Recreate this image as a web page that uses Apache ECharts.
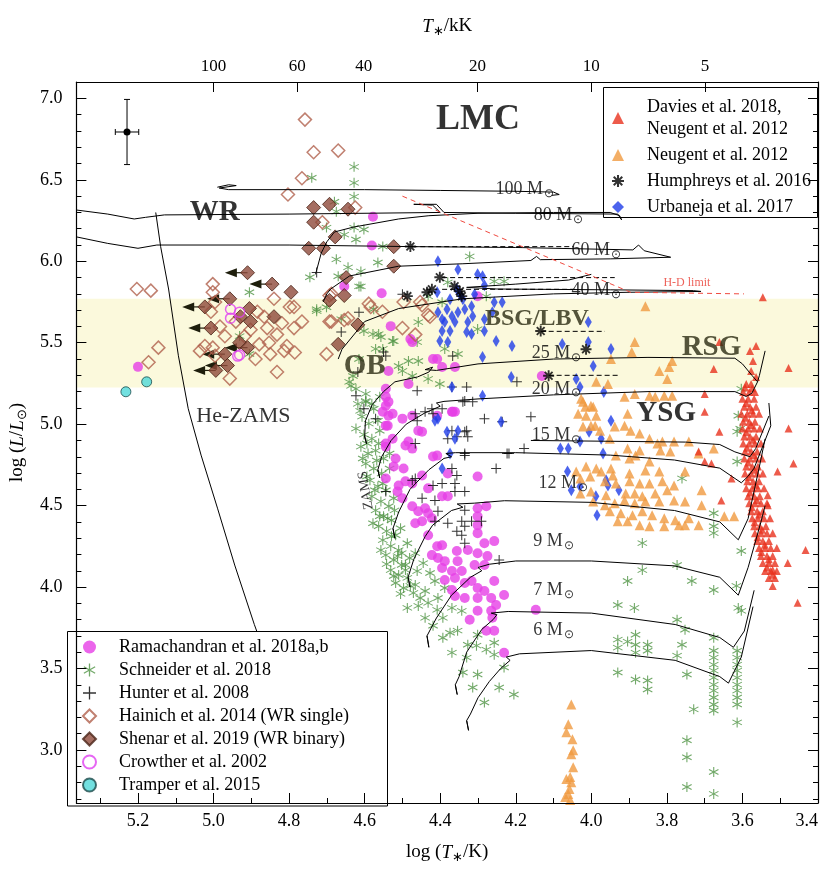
<!DOCTYPE html>
<html>
<head>
<meta charset="utf-8">
<title>LMC HR diagram</title>
<script src="https://cdn.jsdelivr.net/npm/echarts@6.0.0/dist/echarts.min.js"></script>
<style>
  html, body { margin: 0; padding: 0; background: #fff; }
  #chart { width: 831px; height: 869px; }
</style>
</head>
<body>
<div id="chart"></div>
<script>
// ---- axes ----
var xMin = 3.4, xMax = 5.363, yMin = 2.674, yMax = 7.101;
var logTTicks = [3.4, 3.6, 3.8, 4.0, 4.2, 4.4, 4.6, 4.8, 5.0, 5.2];
var logTMinor = [3.5, 3.7, 3.9, 4.1, 4.3, 4.5, 4.7, 4.9, 5.1, 5.3];
var logLTicks = [3.0, 3.5, 4.0, 4.5, 5.0, 5.5, 6.0, 6.5, 7.0];
var logLMinor = [2.7, 2.8, 2.9, 3.1, 3.2, 3.3, 3.4, 3.6, 3.7, 3.8, 3.9, 4.1, 4.2, 4.3, 4.4, 4.6, 4.7, 4.8, 4.9,
                 5.1, 5.2, 5.3, 5.4, 5.6, 5.7, 5.8, 5.9, 6.1, 6.2, 6.3, 6.4, 6.6, 6.7, 6.8, 6.9];
var kKTicks = [100, 60, 40, 20, 10, 5];
var bandLogL = [5.225, 5.77];

// ---- observations [log T, log L] ----
var ramachandran = [[4.544,5.113],[4.537,5.052],[4.500,5.034],[4.539,4.991],[4.458,4.960],[4.448,4.954],[4.367,5.076],[4.544,4.862],[4.518,4.789],[4.492,4.869],[4.474,4.850],[4.523,4.740],[4.497,4.728],[4.544,4.667],[4.510,4.624],[4.492,4.649],[4.474,4.636],[4.513,4.587],[4.500,4.545],[4.448,4.685],[4.432,4.606],[4.419,4.801],[4.380,4.697],[4.474,4.496],[4.458,4.465],[4.440,4.484],[4.432,4.453],[4.466,4.392],[4.448,4.404],[4.422,4.422],[4.395,4.557],[4.380,4.557],[4.301,4.484],[4.278,4.496],[4.301,4.434],[4.301,4.380],[4.301,4.331],[4.283,4.269],[4.257,4.282],[4.432,4.318],[4.408,4.251],[4.395,4.257],[4.422,4.196],[4.406,4.178],[4.388,4.159],[4.356,4.221],[4.354,4.159],[4.327,4.227],[4.301,4.208],[4.275,4.190],[4.309,4.135],[4.283,4.135],[4.395,4.117],[4.369,4.098],[4.361,4.056],[4.343,4.098],[4.335,4.025],[4.317,4.037],[4.388,4.043],[4.369,3.982],[4.301,3.994],[4.283,3.976],[4.257,4.037],[4.265,3.933],[4.301,3.933],[4.335,3.933],[4.361,3.945],[4.231,3.951],[4.252,3.890],[4.265,3.854],[4.262,3.811],[4.301,3.854],[4.322,3.799],[4.278,3.732],[4.257,3.732],[4.231,3.597],[4.147,3.860],[4.301,4.679],[4.578,6.274],[4.581,6.097],[4.654,5.846],[4.555,5.804],[4.531,5.602],[4.479,5.523],[4.474,5.504],[4.537,5.327],[4.419,5.400],[4.361,5.351],[4.395,5.351],[4.301,5.785],[4.131,5.296],[4.369,5.076],[4.544,5.168],[4.537,5.137],[4.544,5.217],[4.484,5.247],[4.552,5.076],[4.526,5.064],[4.474,5.052],[4.408,5.052],[4.361,5.076],[4.544,4.881],[4.526,4.911],[4.484,4.893],[4.544,4.991],[4.408,4.807],[5.200,5.352],[4.408,5.400]];

var schneider = [[4.628,6.580],[4.628,6.482],[4.628,6.397],[4.740,6.513],[4.680,6.366],[4.675,6.305],[4.701,6.207],[4.654,6.164],[4.628,6.207],[4.602,6.195],[4.623,6.134],[4.552,6.091],[4.675,6.012],[4.644,5.963],[4.745,5.902],[4.670,5.908],[4.610,5.846],[4.727,5.694],[4.322,6.030],[4.257,5.877],[4.231,5.877],[4.278,5.785],[4.380,5.871],[4.578,5.553],[4.563,5.553],[4.526,5.510],[4.461,5.504],[4.552,5.462],[4.602,5.572],[4.484,5.388],[4.458,5.388],[4.500,5.327],[4.474,5.296],[4.432,5.278],[4.641,5.260],[4.623,5.217],[4.597,5.137],[4.401,5.247],[4.388,5.462],[4.353,5.431],[4.301,5.584],[4.905,5.810],[4.727,5.706],[4.701,5.718],[4.662,5.645],[4.576,5.706],[4.557,5.535],[4.523,5.510],[4.510,5.357],[4.571,5.462],[4.458,5.627],[4.432,5.785],[4.395,5.749],[4.931,5.541],[4.905,5.431],[4.636,5.235],[4.615,5.400],[4.631,5.296],[4.615,5.846],[4.610,5.938],[4.565,5.993],
  [4.618,5.125],[4.597,5.143],[4.576,5.095],[4.607,5.046],[4.589,5.003],[4.565,5.021],[4.623,4.973],[4.602,4.936],[4.581,4.911],[4.560,4.960],[4.610,4.862],[4.591,4.820],[4.571,4.838],[4.550,4.789],[4.597,4.758],[4.576,4.728],[4.555,4.697],[4.586,4.655],[4.565,4.618],[4.544,4.594],[4.581,4.557],[4.557,4.526],[4.536,4.496],[4.571,4.471],[4.550,4.435],[4.529,4.410],[4.563,4.373],[4.542,4.343],[4.518,4.318],[4.552,4.288],[4.531,4.251],[4.510,4.227],[4.544,4.196],[4.523,4.166],[4.502,4.135],[4.531,4.104],[4.510,4.074],[4.487,4.056],[4.518,4.025],[4.497,3.994],[4.471,3.964],[4.502,4.208],[4.481,4.178],[4.461,4.098],[4.597,5.186],[4.560,5.168],[4.534,4.728],[4.523,4.545],[4.505,4.361],[4.487,4.269],[4.466,4.208],[4.445,4.147],[4.427,4.086],[4.414,4.037],[4.388,3.994],[4.453,3.933],[4.432,3.903],[4.408,3.860],
  [4.612,5.082],[4.581,5.125],[4.594,4.881],[4.563,4.881],[4.605,4.789],[4.534,4.820],[4.568,4.777],[4.573,4.594],[4.552,4.636],[4.594,4.679],[4.560,4.435],[4.539,4.422],[4.578,4.392],[4.521,4.471],[4.529,4.312],[4.557,4.227],[4.513,4.190],[4.542,4.141],[4.492,4.104],[4.523,4.068],[4.505,3.958],[4.479,4.007],[4.458,3.884],[4.440,3.811],[4.487,3.872],[4.419,3.762],[4.393,3.811],[4.374,3.719],[4.393,3.689],[4.369,3.597],[4.330,3.567],[4.340,3.475],[4.314,3.383],[4.283,3.291],[4.244,3.383],
  [4.492,4.135],[4.466,4.013],[4.440,3.976],[4.406,3.933],[4.369,3.872],[4.343,3.854],[4.354,3.732],[4.301,3.707],[4.327,3.646],[4.304,3.640],[4.278,3.616],[4.257,3.658],[4.301,3.463],[4.231,3.506],[4.205,3.340],[4.257,3.585],
  [3.760,4.667],[3.865,4.270],[3.865,4.104],[3.904,4.037],[3.773,4.135],[3.734,4.037],[3.676,3.982],[3.616,4.007],[3.676,4.453],[3.676,4.373],[3.676,4.331],[3.603,4.221],[3.611,3.872],[3.603,3.854],[3.930,3.890],[3.886,3.872],[3.773,3.799],[3.752,3.738],[3.676,3.689],[3.930,3.677],[3.930,3.628],[3.904,3.665],[3.883,3.707],[3.883,3.646],[3.883,3.597],[3.851,3.646],[3.851,3.609],[3.760,3.646],[3.773,3.579],[3.930,3.475],[3.883,3.432],[3.851,3.426],[3.851,3.371],[3.747,3.463],[3.729,3.249],[3.747,3.059],[3.747,2.955],[3.747,2.772],[3.676,2.864],[3.676,2.730],
  [3.676,3.609],[3.676,3.567],[3.676,3.524],[3.676,3.487],[3.676,3.444],[3.676,3.401],[3.676,3.364],[3.676,3.322],[3.676,3.279],[3.676,3.242],
  [3.614,3.609],[3.614,3.567],[3.614,3.524],[3.614,3.487],[3.614,3.444],[3.614,3.401],[3.614,3.364],[3.614,3.322],[3.614,3.279],[3.614,3.169],
  [3.614,4.771],[3.606,4.973],[3.603,5.217],[3.611,5.052],[3.614,4.954]];

var hunter = [[4.602,5.095],[4.571,5.034],[4.466,5.064],[4.419,5.064],[4.395,5.095],[4.340,5.137],[4.314,5.137],[4.283,5.034],[4.160,5.046],[4.369,4.960],[4.335,4.954],[4.356,4.923],[4.327,4.923],[4.466,4.881],[4.223,4.820],[4.178,4.850],[4.335,4.807],[4.369,4.728],[4.356,4.685],[4.252,4.728],[4.544,4.587],[4.466,4.667],[4.395,4.636],[4.419,4.624],[4.361,4.636],[4.361,4.587],[4.335,4.587],[4.414,4.532],[4.406,4.465],[4.414,4.404],[4.380,4.392],[4.335,4.471],[4.343,4.404],[4.335,4.373],[4.343,4.318],[4.356,4.343],[4.317,4.404],[4.291,4.404],[4.335,4.269],[4.448,4.545],[4.474,4.655],[4.244,4.166],[4.727,5.932],[4.500,5.798],[4.615,5.688],[4.662,5.566],[4.550,5.443],[4.618,5.321],[4.623,5.174],[4.367,5.419],[4.369,5.229],[4.330,5.229],[4.236,5.015],[4.197,5.260],[4.335,5.143],[4.440,5.076],[4.461,5.021],[4.422,5.095],[4.380,4.911],[4.330,4.960],[4.335,4.820],[4.218,4.820],[4.544,5.419],[4.461,5.205]];

var hainich = [[4.758,6.87],[4.735,6.67],[4.670,6.68],[4.766,6.51],[4.803,6.41],[4.625,6.33],[4.712,6.24],[5.203,5.83],[5.166,5.82],[5.002,5.86],[5.002,5.81],[4.840,5.77],[4.787,5.72],[4.766,5.63],[4.866,5.66],[4.902,5.58],[4.858,5.59],[4.832,5.55],[4.787,5.59],[4.879,5.49],[4.918,5.54],[4.813,5.45],[4.785,5.44],[4.850,5.43],[4.889,5.40],[4.970,5.54],[4.983,5.60],[5.007,5.69],[4.996,5.75],[5.036,5.45],[5.023,5.48],[5.002,5.47],[4.996,5.42],[4.957,5.28],[4.832,5.32],[5.146,5.47],[5.172,5.38],[4.701,5.43],[4.688,5.80],[4.688,5.63],[4.644,5.65],[4.584,5.72],[4.500,5.59],[4.466,5.55],[4.448,5.73],[4.427,5.66],[4.693,5.79],[4.798,5.72],[4.693,5.63],[4.806,5.48],[4.654,5.64],[4.589,5.74],[4.553,5.69],[4.497,5.75],[4.453,5.75],[4.432,5.67],[4.941,5.63],[4.853,5.50],[4.819,5.62],[4.884,5.69]];

var shenar = [[4.735,6.33],[4.693,6.35],[4.644,6.32],[4.735,6.24],[4.678,6.15],[4.748,6.08],[4.709,6.08],[4.523,6.09],[4.523,5.97],[4.910,5.93],[4.845,5.86],[4.795,5.81],[4.957,5.77],[4.649,5.90],[4.654,5.79],[5.023,5.72],[4.905,5.71],[4.929,5.66],[4.840,5.66],[4.902,5.63],[5.007,5.59],[4.931,5.50],[4.910,5.47],[4.970,5.43],[4.963,5.36],[4.994,5.33],[4.693,5.76],[4.618,5.61],[4.670,5.49]];
// Shenar objects drawn with a leftward (hotter) limit arrow
var shenarLimits = [[4.910,5.93],[4.845,5.86],[4.957,5.77],[5.023,5.72],[5.007,5.59],[4.910,5.47],[4.970,5.43],[4.963,5.36],[4.994,5.33]];
var crowther = [[4.955,5.706],[4.955,5.651],[4.931,5.688],[4.931,5.425],[4.936,5.418]];
var tramper = [[5.232,5.199],[5.177,5.260]];

var davies = [[3.590,5.247],[3.577,5.247],[3.598,5.198],[3.582,5.198],[3.567,5.198],[3.600,5.156],[3.585,5.156],[3.569,5.156],[3.595,5.107],[3.580,5.107],[3.564,5.107],[3.603,5.064],[3.587,5.064],[3.572,5.064],[3.556,5.064],[3.598,5.015],[3.582,5.015],[3.567,5.015],[3.600,4.973],[3.585,4.973],[3.569,4.973],[3.554,4.973],[3.595,4.924],[3.580,4.924],[3.564,4.924],[3.598,4.881],[3.582,4.881],[3.567,4.881],[3.551,4.881],[3.593,4.832],[3.577,4.832],[3.561,4.832],[3.595,4.789],[3.580,4.789],[3.564,4.789],[3.548,4.789],[3.590,4.740],[3.574,4.740],[3.559,4.740],[3.593,4.697],[3.577,4.697],[3.561,4.697],[3.546,4.697],[3.587,4.649],[3.572,4.649],[3.556,4.649],[3.590,4.606],[3.574,4.606],[3.559,4.606],[3.543,4.606],[3.585,4.557],[3.569,4.557],[3.554,4.557],[3.582,4.514],[3.567,4.514],[3.551,4.514],[3.535,4.514],[3.577,4.465],[3.561,4.465],[3.546,4.465],[3.574,4.422],[3.559,4.422],[3.543,4.422],[3.527,4.422],[3.569,4.373],[3.554,4.373],[3.538,4.373],[3.567,4.331],[3.551,4.331],[3.535,4.331],[3.520,4.331],[3.561,4.282],[3.546,4.282],[3.530,4.282],[3.556,4.239],[3.540,4.239],[3.525,4.239],[3.509,4.239],[3.551,4.190],[3.535,4.190],[3.520,4.190],[3.546,4.147],[3.530,4.147],[3.514,4.147],[3.540,4.098],[3.525,4.098],[3.509,4.098],[3.530,4.056],[3.514,4.056],[3.520,4.007],
  [3.593,5.225],[3.574,5.220],[3.590,5.130],[3.575,5.085],[3.592,5.040],[3.577,4.995],[3.590,4.950],[3.572,4.905],[3.588,4.855],[3.570,4.810],[3.585,4.765],[3.568,4.720],[3.583,4.675],[3.565,4.628],[3.580,4.580],[3.562,4.535],[3.575,4.490],[3.556,4.445],[3.568,4.398],[3.548,4.352],[3.560,4.305],[3.541,4.260],[3.550,4.215],[3.530,4.170],[3.535,4.120],[3.520,4.075],
  [3.546,5.779],[3.478,5.345],[3.676,5.339],[3.700,5.186],[3.564,5.480],[3.580,5.449],[3.661,5.504],[3.700,5.076],[3.661,4.954],[3.478,4.973],[3.465,4.759],[3.507,4.710],[3.656,4.532],[3.533,4.563],[3.533,4.502],[3.433,4.227],[3.480,4.147],[3.454,3.903],[3.520,4.104],[3.700,4.771],[3.682,4.759],[3.716,4.832],[3.629,4.667],[3.572,5.388],[3.577,5.327],[3.564,5.290]];

var neugent = [[3.857,5.724],[3.885,5.504],[3.893,5.443],[3.948,5.400],[3.786,5.388],[3.794,5.351],[3.820,5.327],[3.799,5.278],[3.987,5.260],[3.956,5.247],[4.027,5.156],[3.912,5.168],[3.885,5.186],[3.846,5.174],[3.831,5.168],[3.807,5.174],[3.786,5.174],[4.016,5.107],[4.001,5.113],[3.904,5.064],[4.014,5.052],[3.987,5.052],[4.035,5.064],[4.022,4.985],[4.001,4.991],[3.977,4.960],[3.938,4.985],[3.912,4.991],[3.896,4.960],[3.872,4.942],[3.846,4.911],[3.812,4.893],[3.781,4.893],[3.951,4.911],[3.990,4.991],[3.904,4.850],[3.872,4.838],[3.825,4.881],[3.817,4.838],[3.791,4.832],[3.742,4.893],[3.716,4.820],[3.676,4.850],[3.935,4.807],[3.883,4.807],[3.846,4.771],[3.899,4.789],[4.014,4.740],[3.987,4.728],[3.974,4.710],[3.948,4.728],[3.943,4.685],[3.899,4.697],[3.857,4.716],[3.820,4.710],[3.752,4.710],[4.040,4.710],[4.029,4.667],[4.003,4.679],[3.964,4.649],[3.935,4.636],[3.899,4.649],[3.872,4.636],[3.846,4.636],[3.812,4.649],[3.781,4.624],[4.029,4.575],[4.001,4.587],[3.961,4.563],[3.909,4.575],[3.885,4.575],[3.865,4.557],[3.831,4.575],[3.799,4.594],[3.708,4.594],[3.995,4.526],[3.964,4.502],[3.938,4.514],[3.912,4.532],[3.885,4.514],[3.857,4.526],[3.820,4.526],[3.781,4.532],[3.752,4.526],[3.708,4.502],[3.951,4.465],[3.922,4.453],[3.891,4.441],[3.865,4.465],[3.839,4.441],[3.807,4.422],[3.778,4.410],[3.742,4.422],[3.716,4.380],[3.648,4.434],[3.622,4.434],[3.930,4.404],[3.904,4.404],[3.872,4.380],[3.846,4.373],[3.807,4.373],[3.768,4.380],[3.752,4.380],[4.022,5.137],[3.995,5.107],
  [4.053,3.279],[4.061,3.157],[4.066,3.108],[4.050,3.065],[4.048,2.998],[4.053,2.974],[4.056,2.833],[4.066,2.821],[4.053,2.802],[4.061,2.729],[4.069,2.711],[4.056,2.692],[4.048,2.894],[4.058,2.760]];

var humphreys = [[4.479,6.091],[4.401,5.902],[4.487,5.786],[4.435,5.810],[4.422,5.828],[4.362,5.847],[4.348,5.816],[4.343,5.786],[4.134,5.572],[4.113,5.297],[4.014,5.460]];

var urbaneja = [[4.406,6.000],[4.353,5.950],[4.301,5.920],[4.288,5.908],[4.283,5.853],[4.408,5.810],[4.356,5.828],[4.348,5.798],[4.257,5.749],[4.236,5.749],[4.262,5.688],[4.406,5.688],[4.395,5.645],[4.388,5.627],[4.369,5.663],[4.361,5.627],[4.353,5.688],[4.335,5.706],[4.317,5.724],[4.314,5.663],[4.283,5.645],[4.395,5.572],[4.374,5.572],[4.330,5.566],[4.317,5.553],[4.283,5.572],[4.401,5.510],[4.380,5.504],[4.252,5.510],[4.288,5.413],[4.210,5.480],[4.008,5.627],[4.008,5.504],[3.995,5.357],[4.040,5.278],[4.212,5.290],[4.369,5.229],[4.288,5.174],[4.406,5.034],[4.382,4.954],[4.353,4.960],[4.239,5.015],[4.082,4.850],[4.061,4.850],[4.030,4.893],[4.077,5.492],[3.948,5.462],[4.030,5.229],[3.967,5.198],[3.948,5.021],[4.006,4.954],[3.974,4.911],[3.969,4.820],[4.063,4.710],[3.961,4.655],[3.956,4.624],[4.030,4.618],[3.927,4.594],[4.053,4.594],[3.988,4.557],[3.985,4.441],[4.414,5.021],[4.361,4.911],[4.374,4.820],[4.395,4.728],[4.374,5.767],[4.340,5.767],[4.327,5.627],[4.309,5.798],[4.382,5.706]];

// typical error bar [log T, log L, dlogT, dlogL]
var errorBar = [[5.229, 6.794, 0.031, 0.20]];

// ---- model curves [log T, log L] ----
var track100 = [[4.99,6.455],[4.96,6.47],[4.94,6.465],[4.985,6.45],[4.96,6.44],[4.80,6.44],[4.60,6.44],[4.40,6.435],[4.20,6.43],[4.10,6.425],[4.085,6.41],[4.09,6.40],[4.105,6.405]];
var track80 = [[4.73,5.92],[4.715,6.05],[4.70,6.12],[4.68,6.18],[4.63,6.21],[4.51,6.26],[4.43,6.28],[4.30,6.295],[4.10,6.30],[3.95,6.30],[3.925,6.28],[3.92,6.255],[3.93,6.29],[4.20,6.295],[4.39,6.30],[4.41,6.35],[4.47,6.35],[4.42,6.345],[4.40,6.30],[4.80,6.29],[5.13,6.285],[5.18,6.27],[5.21,6.26],[5.28,6.29],[5.363,6.315]];
var track60 = [[4.71,5.75],[4.70,5.80],[4.69,5.83],[4.64,5.91],[4.51,5.97],[4.34,5.985],[4.16,6.005],[4.145,6.03],[4.135,6.01],[3.95,6.015],[3.79,6.025],[3.86,6.065],[3.875,6.10],[3.89,6.07],[4.20,6.085],[4.47,6.09],[4.80,6.10],[5.15,6.10],[5.20,6.08],[5.28,6.11],[5.363,6.15]];
var track40 = [[4.67,5.40],[4.66,5.46],[4.60,5.63],[4.51,5.71],[4.34,5.77],[4.10,5.80],[3.90,5.81],[3.71,5.815],[3.73,5.82],[3.95,5.825],[4.25,5.83],[4.33,5.84],[4.20,5.86],[4.06,5.885],[4.00,5.92]];
var track25 = [[4.60,4.93],[4.595,4.88],[4.60,4.92],[4.598,5.02],[4.58,5.12],[4.55,5.20],[4.52,5.26],[4.46,5.29],[4.43,5.32],[4.42,5.35],[4.44,5.335],[4.41,5.33],[4.30,5.37],[4.10,5.40],[3.85,5.41],[3.62,5.405],[3.60,5.37],[3.575,5.30],[3.56,5.26],[3.555,5.30],[3.54,5.45]];
var track20 = [[4.565,4.72],[4.56,4.67],[4.565,4.72],[4.555,4.80],[4.53,4.90],[4.49,5.00],[4.44,5.07],[4.40,5.11],[4.41,5.13],[4.39,5.14],[4.30,5.155],[4.10,5.18],[3.85,5.20],[3.62,5.20],[3.59,5.17],[3.575,5.19],[3.56,5.26]];
var track20b = [[4.16,4.90],[3.95,4.895],[3.75,4.89],[3.66,4.875],[3.62,4.83],[3.58,4.80],[3.565,4.85],[3.53,5.05]];
var track15 = [[4.525,4.36],[4.52,4.30],[4.525,4.36],[4.51,4.46],[4.48,4.60],[4.43,4.72],[4.39,4.79],[4.37,4.80],[4.385,4.82],[4.36,4.825],[4.20,4.825],[3.95,4.81],[3.78,4.78],[3.66,4.73],[3.603,4.64],[3.585,4.68],[3.569,4.73],[3.525,4.99],[3.53,5.13]];
var track12 = [[4.485,4.06],[4.48,4.00],[4.485,4.06],[4.47,4.17],[4.44,4.31],[4.42,4.38],[4.37,4.47],[4.34,4.49],[4.355,4.51],[4.31,4.515],[4.23,4.53],[4.00,4.52],[3.78,4.47],[3.66,4.40],[3.611,4.29],[3.585,4.42],[3.556,4.73],[3.54,4.91]];
var track9 = [[4.435,3.70],[4.43,3.63],[4.435,3.70],[4.41,3.81],[4.37,3.95],[4.32,4.06],[4.29,4.10],[4.30,4.12],[4.27,4.14],[4.20,4.16],[4.00,4.16],[3.78,4.13],[3.66,4.06],[3.611,3.95],[3.585,4.12],[3.551,4.40],[3.54,4.50]];
var track7 = [[4.36,3.40],[4.355,3.34],[4.36,3.40],[4.35,3.45],[4.33,3.60],[4.29,3.74],[4.26,3.80],[4.25,3.83],[4.265,3.84],[4.22,3.85],[4.00,3.84],[3.778,3.77],[3.66,3.69],[3.624,3.63],[3.595,3.73],[3.569,3.98]];
var track6 = [[4.33,3.18],[4.325,3.12],[4.33,3.18],[4.32,3.22],[4.30,3.32],[4.27,3.42],[4.24,3.50],[4.215,3.55],[4.225,3.57],[4.19,3.59],[4.00,3.61],[3.778,3.55],[3.66,3.45],[3.637,3.41],[3.603,3.57],[3.572,3.88]];
var heZams = [[5.153,6.30],[5.14,6.09],[5.119,5.83],[5.093,5.42],[5.067,5.095],[5.033,4.81],[4.989,4.48],[4.944,4.135],[4.892,3.77],[4.85,3.50]];
var hdLimit = [[4.50,6.40],[3.896,5.81],[3.596,5.80]];
var humphreysLinks = [
  [[4.474,6.09],[4.048,6.09]],
  [[4.395,5.90],[3.938,5.90]],
  [[4.395,5.828],[4.040,5.828]],
  [[4.134,5.57],[3.964,5.57]],
  [[4.113,5.30],[3.930,5.30]]
];

// ---- annotations: text, [log T, log L], style key ----
var annotations = [
  ['LMC', [4.30, 6.867], 'lmc'],
  ['WR', [4.997, 6.30], 'big'],
  ['OB', [4.60, 5.357], 'bigOlive'],
  ['BSG/LBV', [4.144, 5.645], 'midOlive'],
  ['RSG', [3.682, 5.468], 'bigOlive'],
  ['YSG', [3.802, 5.064], 'big'],
  ['He-ZAMS', [4.921, 5.046], 'plain'],
  ['ZAMS', [4.597, 4.594], 'zams'],
  ['H-D limit', [3.747, 5.865], 'hd'],
  ['100', [4.176, 6.44], 'mass'],
  ['80', [4.087, 6.28], 'mass'],
  ['60', [3.987, 6.066], 'mass'],
  ['40', [3.987, 5.822], 'mass'],
  ['25', [4.092, 5.437], 'mass'],
  ['20', [4.092, 5.217], 'mass'],
  ['15', [4.092, 4.93], 'mass'],
  ['12', [4.074, 4.636], 'mass'],
  ['9', [4.10, 4.282], 'mass'],
  ['7', [4.10, 3.982], 'mass'],
  ['6', [4.10, 3.732], 'mass']
];

var serif = 'Liberation Serif';
var olive = '#2b2b12';
var labelStyles = {
  lmc: {fontSize: 36, fontWeight: 'bold', color: '#000'},
  big: {fontSize: 29, fontWeight: 'bold', color: '#000'},
  bigOlive: {fontSize: 29, fontWeight: 'bold', color: olive},
  midOlive: {fontSize: 24, fontWeight: 'bold', color: olive},
  plain: {fontSize: 22, color: '#000'},
  zams: {fontSize: 14, color: '#000', rotate: 100},
  hd: {fontSize: 12, color: '#e83a30'},
  mass: {fontSize: 18, color: '#000'}
};

var asteriskPath = 'path://M9,0L11,0L11,20L9,20Z M1.84,4.13L19.16,14.13L18.16,15.87L0.84,5.87Z M0.84,14.13L18.16,4.13L19.16,5.87L1.84,15.87Z';
var plusPath = 'path://M9,0L11,0L11,9L20,9L20,11L11,11L11,20L9,20L9,11L0,11L0,9L9,9Z';
var starPath = 'path://M8.3,0L11.7,0L11.7,20L8.3,20Z M0,8.3L20,8.3L20,11.7L0,11.7Z M4.1,1.7L18.3,15.9L15.9,18.3L1.7,4.1Z M15.9,1.7L18.3,4.1L4.1,18.3L1.7,15.9Z';

function scatter(name, data, symbol, size, itemStyle) {
  return {
    name: name, type: 'scatter', data: data, symbol: symbol, symbolSize: size,
    itemStyle: itemStyle, silent: true, z: 2, animation: false
  };
}

function curve(name, data, extra) {
  var s = {
    name: name, type: 'line', data: data, showSymbol: false, symbol: 'none',
    lineStyle: {color: '#000', width: 1}, silent: true, z: 3, animation: false
  };
  for (var k in extra) s[k] = extra[k];
  return s;
}

function renderErrorBar(params, api) {
  var x = api.value(0), y = api.value(1), dx = api.value(2), dy = api.value(3);
  var c = api.coord([x, y]);
  var l = api.coord([x + dx, y]);
  var r = api.coord([x - dx, y]);
  var t = api.coord([x, y + dy]);
  var b = api.coord([x, y - dy]);
  var st = {stroke: '#000', lineWidth: 1};
  return {type: 'group', children: [
    {type: 'line', shape: {x1: l[0], y1: l[1], x2: r[0], y2: r[1]}, style: st},
    {type: 'line', shape: {x1: t[0], y1: t[1], x2: b[0], y2: b[1]}, style: st},
    {type: 'line', shape: {x1: t[0] - 3, y1: t[1], x2: t[0] + 3, y2: t[1]}, style: st},
    {type: 'line', shape: {x1: b[0] - 3, y1: b[1], x2: b[0] + 3, y2: b[1]}, style: st},
    {type: 'line', shape: {x1: l[0], y1: l[1] - 3, x2: l[0], y2: l[1] + 3}, style: st},
    {type: 'line', shape: {x1: r[0], y1: r[1] - 3, x2: r[0], y2: r[1] + 3}, style: st},
    {type: 'circle', shape: {cx: c[0], cy: c[1], r: 3.5}, style: {fill: '#000'}}
  ]};
}

// hotter limit: arrow pointing to higher log T (left on the inverted axis)
var arrowDex = 0.06;
function renderArrow(params, api) {
  var s = api.coord([api.value(0), api.value(1)]);
  var e = api.coord([api.value(0) + arrowDex, api.value(1)]);
  return {type: 'group', children: [
    {type: 'line', shape: {x1: s[0], y1: s[1], x2: e[0] + 8, y2: e[1]}, style: {stroke: '#1e1e0c', lineWidth: 1.2}},
    {type: 'polygon', shape: {points: [[e[0], e[1]], [e[0] + 12, e[1] - 4.5], [e[0] + 12, e[1] + 4.5]]}, style: {fill: '#1e1e0c'}}
  ]};
}

var series = [];

series.push(curve('He-ZAMS', heZams, {
  z: 1,
  markArea: {
    silent: true,
    itemStyle: {color: '#fbf9dc'},
    data: [[{yAxis: bandLogL[0]}, {yAxis: bandLogL[1]}]]
  }
}));

series.push(scatter('Schneider et al. 2018', schneider, asteriskPath, 10, {color: '#4f9443'}));
series.push(scatter('Ramachandran et al. 2018a,b', ramachandran, 'circle', 10, {color: '#e63ee6'}));
series.push(scatter('Hunter et al. 2008', hunter, plusPath, 10, {color: '#000'}));
series.push(scatter('Urbaneja et al. 2017', urbaneja, 'diamond', [7, 12], {color: '#1f3de8'}));
series.push(scatter('Neugent et al. 2012', neugent, 'triangle', 10, {color: '#f09a40'}));
series.push(scatter('Davies et al. 2018,\nNeugent et al. 2012', davies, 'triangle', 8, {color: '#e8321e'}));
series.push(scatter('Hainich et al. 2014 (WR single)', hainich, 'diamond', 13,
  {color: 'rgba(255,255,255,0)', borderColor: '#b0604c', borderWidth: 1.5}));
series.push({
  name: 'limits', type: 'custom', renderItem: renderArrow, data: shenarLimits,
  silent: true, z: 2, animation: false
});
series.push(scatter('Shenar et al. 2019 (WR binary)', shenar, 'diamond', 14,
  {color: '#8e4a3b', borderColor: '#4a2418', borderWidth: 1}));
series.push(scatter('Crowther et al. 2002', crowther, 'circle', 10,
  {color: 'rgba(255,255,255,0)', borderColor: '#e040f0', borderWidth: 1.5}));
series.push(scatter('Tramper et al. 2015', tramper, 'circle', 10,
  {color: '#4fd8d8', borderColor: '#1a4a4a', borderWidth: 1}));

[track100, track80, track60, track40, track25, track20, track20b, track15, track12, track9, track7, track6]
  .forEach(function (t, i) { series.push(curve('track' + i, t)); });
humphreysLinks.forEach(function (seg, i) {
  series.push(curve('link' + i, seg, {lineStyle: {color: '#000', width: 1, type: [5, 3]}}));
});
series.push(curve('H-D limit', hdLimit, {lineStyle: {color: '#f04a40', width: 1, type: [5, 4]}}));

series.push(scatter('Humphreys et al. 2016', humphreys, starPath, 11, {color: '#000'}));
series[series.length - 1].z = 4;

series.push({
  name: 'error', type: 'custom', renderItem: renderErrorBar, data: errorBar,
  silent: true, z: 4, animation: false
});

series.push({
  name: 'labels', type: 'scatter', symbolSize: 0, silent: true, z: 5, animation: false,
  data: annotations.map(function (a) {
    var st = labelStyles[a[2]];
    var lab = {show: true, position: 'inside', fontFamily: serif, fontSize: st.fontSize,
      fontWeight: st.fontWeight || 'normal', color: st.color, rotate: st.rotate || 0};
    if (a[2] === 'mass') {
      lab.formatter = '{m|' + a[0] + ' M}{o|⊙}';
      lab.rich = {m: {fontFamily: serif, fontSize: 18, color: '#000'},
                  o: {fontFamily: serif, fontSize: 12, color: '#000', padding: [9, 0, 0, 1]}};
    } else {
      lab.formatter = a[0];
    }
    return {value: a[1], label: lab};
  })
});

var fmt1 = function (v) { return Number(v).toFixed(1); };
var kKValues = kKTicks.map(function (t) { return Math.log10(t * 1000); });
var nameRich = {
  a: {fontFamily: serif, fontSize: 19, color: '#000'},
  i: {fontFamily: serif, fontSize: 19, fontStyle: 'italic', color: '#000'},
  s: {fontFamily: serif, fontSize: 13, color: '#000', padding: [10, 0, 0, 0]}
};

function xAx(pos, show, ticks, len, labels) {
  return {
    type: 'value', position: pos, min: xMin, max: xMax, inverse: true, z: 10,
    splitLine: {show: false},
    axisLine: {show: show, onZero: false, lineStyle: {color: '#000', width: 1.2}},
    axisTick: {show: true, inside: true, length: len, customValues: ticks, lineStyle: {color: '#000', width: 1}},
    axisLabel: labels || {show: false}
  };
}
function yAx(pos, show, ticks, len, labels) {
  return {
    type: 'value', position: pos, min: yMin, max: yMax, z: 10,
    splitLine: {show: false},
    axisLine: {show: show, onZero: false, lineStyle: {color: '#000', width: 1.2}},
    axisTick: {show: true, inside: true, length: len, customValues: ticks, lineStyle: {color: '#000', width: 1}},
    axisLabel: labels || {show: false}
  };
}

var xBottom = xAx('bottom', true, logTTicks, 10, {
  show: true, customValues: logTTicks, formatter: fmt1, margin: 9, alignMinLabel: 'right',
  fontFamily: serif, fontSize: 18, color: '#000'
});
xBottom.name = '{a|log (}{i|T}{s|∗}{a|/K)}';
xBottom.nameLocation = 'middle';
xBottom.nameGap = 38;
xBottom.nameTextStyle = {rich: nameRich};

var xTop = xAx('top', true, kKValues, 10, {
  show: true, customValues: kKValues, margin: 7,
  formatter: function (v) { return String(Math.round(Math.pow(10, v) / 1000)); },
  fontFamily: serif, fontSize: 17, color: '#000'
});
xTop.name = '{i|T}{s|∗}{a|/kK}';
xTop.nameLocation = 'middle';
xTop.nameGap = 44;
xTop.nameTextStyle = {rich: nameRich};

var yLeft = yAx('left', true, logLTicks, 10, {
  show: true, customValues: logLTicks, formatter: fmt1, margin: 14,
  fontFamily: serif, fontSize: 18, color: '#000'
});
yLeft.name = '{a|log (}{i|L}{a|/}{i|L}{s|⊙}{a|)}';
yLeft.nameLocation = 'middle';
yLeft.nameGap = 42;
yLeft.nameRotate = 90;
yLeft.nameTextStyle = {rich: nameRich};

// legend text sits a fixed gap right of a small icon
function legendLabel(name) {
  return name.split('\n').map(function (l) { return '{t|' + l + '}'; }).join('\n');
}
function legendRich(pad, lh) {
  return {t: {fontFamily: serif, fontSize: 18, color: '#000', padding: [0, 0, 0, pad], lineHeight: lh}};
}

var option = {
  animation: false,
  backgroundColor: '#fff',
  textStyle: {fontFamily: serif},
  grid: {left: 67, right: 13, top: 82, bottom: 63},
  xAxis: [xBottom, xAx('bottom', false, logTMinor, 5), xTop],
  yAxis: [yLeft, yAx('left', false, logLMinor, 5), yAx('right', true, logLTicks, 10), yAx('right', false, logLMinor, 5)],
  legend: [
    {
      data: ['Ramachandran et al. 2018a,b', 'Schneider et al. 2018', 'Hunter et al. 2008',
             'Hainich et al. 2014 (WR single)', 'Shenar et al. 2019 (WR binary)',
             'Crowther et al. 2002', 'Tramper et al. 2015'],
      orient: 'vertical', left: 82, top: 637, padding: 0, itemGap: 3,
      itemWidth: 13, itemHeight: 13, selectedMode: false, z: 6,
      formatter: legendLabel,
      textStyle: {fontFamily: serif, fontSize: 18, color: '#000', lineHeight: 20, rich: legendRich(18, 20)}
    },
    {
      data: ['Davies et al. 2018,\nNeugent et al. 2012', 'Neugent et al. 2012',
             'Humphreys et al. 2016', 'Urbaneja et al. 2017'],
      orient: 'vertical', left: 612, top: 96, padding: 0, itemGap: 4,
      itemWidth: 12, itemHeight: 12, selectedMode: false, z: 6,
      formatter: legendLabel,
      textStyle: {fontFamily: serif, fontSize: 18, color: '#000', lineHeight: 22, rich: legendRich(18, 22)}
    }
  ],
  graphic: [
    {type: 'rect', z: 3, silent: true, shape: {x: 67.5, y: 631.5, width: 320, height: 174.5},
     style: {fill: '#fff', stroke: '#000', lineWidth: 1}},
    {type: 'rect', z: 3, silent: true, shape: {x: 603.5, y: 87.5, width: 214, height: 130},
     style: {fill: '#fff', stroke: '#000', lineWidth: 1}}
  ],
  series: series
};

var chart = echarts.init(document.getElementById('chart'));
chart.setOption(option);
</script>
</body>
</html>
